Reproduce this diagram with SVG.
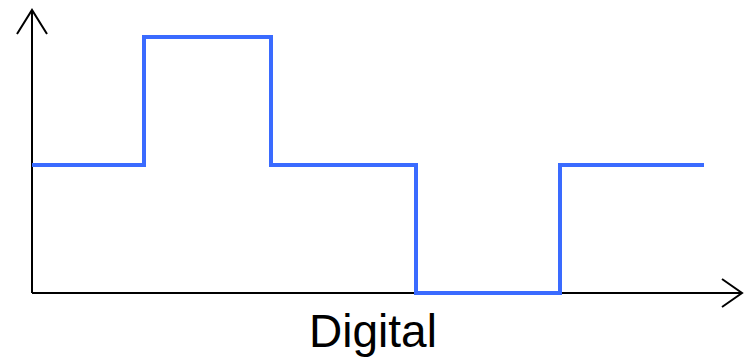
<svg xmlns="http://www.w3.org/2000/svg" width="744" height="362" viewBox="0 0 744 362">
  <style>
    .axis { fill: none; stroke: #000; stroke-width: 2; }
    .signal { fill: none; stroke: #3a6bff; stroke-width: 4; stroke-linejoin: miter; stroke-linecap: butt; }
    .label { font-family: "Liberation Sans", Arial, sans-serif; font-size: 46px; fill: #000; text-anchor: middle; }
  </style>
  <rect width="744" height="362" fill="#fff"/>
  <g id="axes">
    <path class="axis" d="M32 293 V10 M17 34 L32 10 L47 34"/>
    <path class="axis" d="M32 293 H742 M722 279 L742 293 L722 307"/>
  </g>
  <g id="signal">
    <path class="signal" d="M32 165 H144 V37 H271 V165 H416 V293 H560 V165 H704"/>
  </g>
  <text class="label" x="373" y="347">Digital</text>
</svg>
